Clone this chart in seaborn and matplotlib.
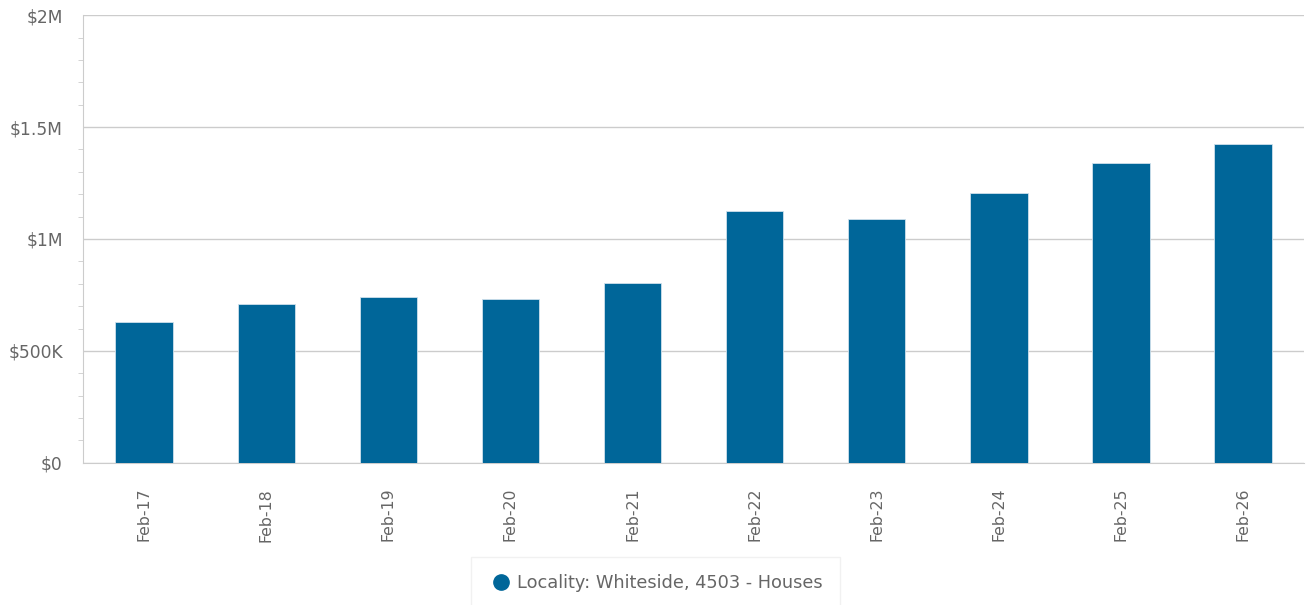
import matplotlib
matplotlib.use('Agg')
import matplotlib.pyplot as plt
from matplotlib.lines import Line2D
from matplotlib.ticker import FuncFormatter, MultipleLocator
import seaborn as sns
import pandas as pd

# values
periods = ['Feb-17', 'Feb-18', 'Feb-19', 'Feb-20', 'Feb-21',
           'Feb-22', 'Feb-23', 'Feb-24', 'Feb-25', 'Feb-26']
median_price = [629000, 710000, 741000, 733000, 805000,
                1126000, 1088000, 1207000, 1338000, 1425000]
series_name = 'Locality: Whiteside, 4503 - Houses'

bar_color = '#006699'
text_color = '#666666'
grid_color = '#cccccc'


def money(v, pos):
    # $0, $500K, $1M, $1.5M, $2M
    if v == 0:
        return '$0'
    if v < 1e6:
        return f'${v / 1e3:g}K'
    return f'${v / 1e6:g}M'


def main():
    sns.set_style('white')
    plt.rcParams['font.family'] = ['DejaVu Sans']

    df = pd.DataFrame({'period': periods, 'price': median_price})

    fig = plt.figure(figsize=(13.06, 6.05), dpi=100)
    ax = fig.add_axes([0.0636, 0.235, 0.935, 0.740])

    sns.barplot(data=df, x='period', y='price', color=bar_color, width=0.47,
                edgecolor='#cfe0ec', linewidth=0.6, saturation=1, ax=ax, zorder=3)

    ax.set_ylim(0, 2e6)
    ax.set_xlim(-0.5, len(periods) - 0.5)
    ax.yaxis.set_major_locator(MultipleLocator(5e5))
    ax.yaxis.set_minor_locator(MultipleLocator(1e5))
    ax.yaxis.set_major_formatter(FuncFormatter(money))
    ax.grid(axis='y', which='major', color=grid_color, linewidth=1, zorder=0)
    ax.set_axisbelow(True)

    for side in ['top', 'right']:
        ax.spines[side].set_visible(False)
    ax.spines['left'].set_color(grid_color)
    ax.spines['bottom'].set_color(grid_color)

    ax.tick_params(axis='y', which='major', length=3.6, color=grid_color,
                   labelsize=12.3, labelcolor=text_color, pad=11)
    ax.tick_params(axis='y', which='minor', length=3.6, color=grid_color, left=True)
    ax.tick_params(axis='x', length=8, color='#ccd6eb', labelsize=11.3,
                   labelcolor=text_color, pad=10, labelrotation=90)

    ax.set_xlabel('')
    ax.set_ylabel('')

    handle = Line2D([], [], marker='o', linestyle='none', color=bar_color, markersize=11)
    leg = fig.legend([handle], [series_name], loc='center', bbox_to_anchor=(0.502, 0.036),
                     frameon=True, fontsize=12.8, handletextpad=0.25, handlelength=1.4,
                     borderpad=0.95, borderaxespad=0, fancybox=False, labelcolor=text_color)
    leg.get_frame().set_edgecolor('#eeeeee')
    leg.get_frame().set_linewidth(1)

    fig.savefig('out.png', dpi=100, facecolor='white')


if __name__ == '__main__':
    main()
